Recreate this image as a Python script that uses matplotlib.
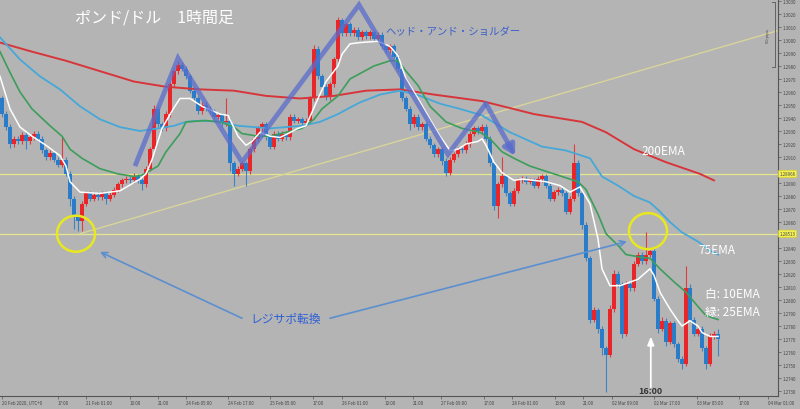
import matplotlib
matplotlib.use("Agg")
import matplotlib.pyplot as plt
from matplotlib.patches import Ellipse

plt.rcParams['font.family'] = ['Noto Sans CJK JP', 'DejaVu Sans']

# GBP/USD 1h candles, open of each bar = previous close
first_open = 1.2955
closes = [
    1.2943, 1.2933, 1.2920, 1.2924, 1.2922, 1.2927, 1.2922, 1.2925, 1.2928, 1.2924,
    1.2915, 1.2910, 1.2913, 1.2908, 1.2904, 1.2908, 1.2897, 1.2878, 1.2864, 1.2861,
    1.2874, 1.2882, 1.2878, 1.2881, 1.2879, 1.2882, 1.2878, 1.2881, 1.2885, 1.2889,
    1.2892, 1.2893, 1.2892, 1.2895, 1.2892, 1.2889, 1.2901, 1.2916, 1.2947, 1.2935,
    1.2932, 1.2943, 1.2966, 1.2976, 1.2981, 1.2978, 1.2972, 1.2961, 1.2955, 1.2945,
    1.2950, 1.2947, 1.2945, 1.2941, 1.2942, 1.2936, 1.2938, 1.2905, 1.2897, 1.2901,
    1.2905, 1.2899, 1.2916, 1.2924, 1.2932, 1.2935, 1.2925, 1.2918, 1.2928, 1.2924,
    1.2928, 1.2925, 1.2941, 1.2938, 1.2939, 1.2936, 1.2938, 1.2955, 1.2993, 1.2972,
    1.2964, 1.2956, 1.2966, 1.2985, 1.3015, 1.3005, 1.3012, 1.3005, 1.3008, 1.3002,
    1.3006, 1.3003, 1.3006, 1.3001, 1.3004, 1.2995, 1.2992, 1.2995, 1.2987, 1.2978,
    1.2955, 1.2947, 1.2935, 1.2941, 1.2933, 1.2935, 1.2924, 1.2919, 1.2912, 1.2916,
    1.2907, 1.2898, 1.2908, 1.2912, 1.2916, 1.2915, 1.2920, 1.2928, 1.2932, 1.2930,
    1.2933, 1.2924, 1.2905, 1.2872, 1.2889, 1.2895, 1.2882, 1.2874, 1.2884, 1.2892,
    1.2893, 1.2891, 1.2892, 1.2888, 1.2893, 1.2895, 1.2888, 1.2878, 1.2883, 1.2885,
    1.2882, 1.2868, 1.2878, 1.2905, 1.2882, 1.2858, 1.2832, 1.2785, 1.2792, 1.2778,
    1.2763, 1.2758, 1.2793, 1.2820, 1.2812, 1.2774, 1.2812, 1.2809, 1.2828, 1.2835,
    1.2830, 1.2835, 1.2838, 1.2801, 1.2778, 1.2784, 1.2768, 1.2782, 1.2766, 1.2755,
    1.2751, 1.2809, 1.2785, 1.2774, 1.2778, 1.2763, 1.2751, 1.2772, 1.2774, 1.2770,
]
# wick lengths in pips above / below the body
wick_up = [
    2, 2, 2, 2, 2, 2, 2, 2, 2, 2,   2, 2, 2, 2, 2, 17, 2, 2, 2, 2,
    2, 2, 2, 2, 2, 2, 2, 2, 2, 2,   2, 2, 2, 3, 2, 2, 2, 2, 3, 2,
    2, 2, 2, 2, 3, 2, 2, 2, 2, 2,   2, 2, 2, 2, 2, 2, 17, 2, 2, 2,
    2, 2, 2, 2, 2, 2, 2, 2, 2, 2,   2, 2, 2, 2, 2, 2, 2, 2, 3, 2,
    2, 2, 2, 2, 3, 2, 2, 2, 2, 2,   2, 2, 2, 2, 2, 2, 2, 2, 2, 2,
    2, 2, 2, 2, 2, 2, 2, 2, 2, 2,   2, 2, 2, 2, 2, 2, 2, 2, 2, 2,
    2, 2, 2, 2, 2, 15, 2, 2, 2, 2,  2, 2, 2, 2, 2, 2, 2, 2, 2, 2,
    2, 2, 2, 15, 3, 2, 2, 2, 3, 2,  2, 2, 3, 3, 2, 2, 3, 2, 2, 2,
    2, 17, 2, 2, 2, 3, 2, 2, 2, 2,  2, 17, 3, 2, 2, 2, 2, 3, 2, 4,
]
wick_dn = [
    2, 2, 3, 2, 2, 2, 6, 2, 2, 2,   2, 2, 2, 2, 2, 2, 2, 6, 9, 8,
    8, 2, 2, 2, 2, 2, 4, 2, 2, 2,   2, 2, 2, 2, 2, 4, 2, 2, 2, 2,
    2, 2, 2, 2, 2, 2, 2, 2, 2, 2,   2, 2, 2, 2, 2, 2, 2, 6, 9, 2,
    2, 11, 2, 2, 2, 2, 2, 2, 2, 2,  2, 2, 2, 2, 2, 2, 2, 2, 2, 2,
    2, 2, 2, 2, 2, 2, 2, 2, 2, 2,   2, 2, 2, 2, 2, 2, 2, 2, 2, 2,
    2, 2, 4, 2, 2, 2, 2, 2, 2, 2,   3, 3, 2, 2, 2, 2, 2, 2, 2, 2,
    2, 2, 2, 3, 9, 2, 2, 2, 2, 2,   2, 2, 2, 2, 2, 2, 2, 2, 2, 2,
    2, 2, 2, 2, 2, 3, 2, 3, 2, 3,   5, 29, 2, 2, 2, 3, 2, 2, 2, 2,
    2, 2, 2, 2, 3, 2, 3, 2, 2, 3,   4, 2, 2, 2, 2, 2, 4, 2, 2, 13,
]

# moving averages sampled along the bars (bar index, price)
ema10_x = [-0.5, 2, 4.5, 7.5, 11, 14.5, 16, 17, 19.5, 24.5, 29.5, 34.5, 36, 37.5, 40, 43, 44.5, 47,
           50, 54.5, 56.5, 59, 61, 62.5, 64.5, 67, 69.5, 71.5, 74, 76, 79, 81, 84, 85, 87, 89.5, 94,
           97, 99, 101, 104, 107, 109.5, 112, 114, 116, 119, 120, 121, 123, 125, 128, 130, 136,
           139.5, 142, 144.5, 147, 149, 150, 152, 154.5, 159, 162, 163, 164.5, 167, 169, 170, 172,
           174, 175, 177, 179]
ema10_y = [1.2972, 1.2947, 1.2933, 1.2926, 1.2919, 1.2911, 1.2903, 1.2891, 1.2883, 1.2882, 1.2884,
           1.2893, 1.2897, 1.2908, 1.2932, 1.2948, 1.2955, 1.2955, 1.2949, 1.2943, 1.2942, 1.2926,
           1.2919, 1.2922, 1.2929, 1.2926, 1.2925, 1.2928, 1.2932, 1.2934, 1.2955, 1.2968, 1.2980,
           1.2989, 1.2997, 1.2998, 1.2999, 1.2995, 1.2988, 1.2970, 1.2955, 1.2939, 1.2926, 1.2915,
           1.2916, 1.2920, 1.2922, 1.2924, 1.2919, 1.2906, 1.2898, 1.2892, 1.2893, 1.2891, 1.2888,
           1.2883, 1.2887, 1.2874, 1.2847, 1.2824, 1.2811, 1.2811, 1.2816, 1.2824, 1.2819, 1.2806,
           1.2793, 1.2784, 1.2780, 1.2784, 1.2780, 1.2775, 1.2772, 1.2772]
ema25_x = [-0.5, 2, 4.5, 7.5, 12, 15, 17, 20, 24.5, 29, 33, 35, 39, 41, 44.5, 46, 51, 54.5, 58, 60,
           64, 67, 71, 75, 78, 80, 84, 87, 93, 97, 99, 101, 104, 107, 111, 115, 119.5, 122, 125, 128,
           132, 136, 140, 144, 146, 149, 151, 154, 156, 159.5, 162, 164.5, 168, 171, 174, 176, 179]
ema25_y = [1.2991, 1.2975, 1.2960, 1.2947, 1.2934, 1.2926, 1.2916, 1.2909, 1.2901, 1.2897, 1.2895,
           1.2896, 1.2903, 1.2914, 1.2928, 1.2937, 1.2938, 1.2937, 1.2933, 1.2928, 1.2926, 1.2926,
           1.2929, 1.2932, 1.2939, 1.2947, 1.2957, 1.2970, 1.2980, 1.2984, 1.2984, 1.2976, 1.2965,
           1.2949, 1.2937, 1.2932, 1.2929, 1.2924, 1.2914, 1.2909, 1.2903, 1.2899, 1.2895, 1.2891,
           1.2885, 1.2866, 1.2851, 1.2842, 1.2835, 1.2833, 1.2832, 1.2824, 1.2814, 1.2806, 1.2795,
           1.2788, 1.2785]
ema75_x = [-0.5, 4.5, 9.5, 14.5, 19.5, 24.5, 29.5, 34.5, 39, 43, 46, 50, 54.5, 59, 63, 67, 71, 75,
           79.5, 84, 87, 89.5, 94.5, 99.5, 104.5, 109.5, 114.5, 120, 127, 135, 141, 147, 150, 154,
           158, 162, 164.5, 167, 170, 174, 177, 179]
ema75_y = [1.3002, 1.2985, 1.2972, 1.2962, 1.2949, 1.2939, 1.2933, 1.2930, 1.2932, 1.2934, 1.2937,
           1.2938, 1.2937, 1.2934, 1.2933, 1.2932, 1.2933, 1.2934, 1.2937, 1.2943, 1.2948, 1.2952,
           1.2958, 1.2961, 1.2957, 1.2951, 1.2947, 1.2942, 1.2929, 1.2918, 1.2915, 1.2909, 1.2895,
           1.2888, 1.2880, 1.2875, 1.2868, 1.2860, 1.2852, 1.2845, 1.2838, 1.2835]
ema200_x = [-0.5, 7.5, 16, 24.5, 33, 41, 49.5, 58, 66, 74.5, 83, 91, 99.5, 108, 120, 133, 145, 151,
            158, 166, 174.5, 178]
ema200_y = [1.2998, 1.2991, 1.2984, 1.2976, 1.2968, 1.2964, 1.2962, 1.2961, 1.2957, 1.2955, 1.2957,
            1.2961, 1.2962, 1.2958, 1.2953, 1.2943, 1.2937, 1.2929, 1.2916, 1.2906, 1.2897, 1.2892]

# drawn pattern and support/resistance
hs_x = [33.25, 44, 60, 89.25, 111.5, 121, 128.25]
hs_y = [1.2903, 1.2986, 1.2906, 1.3027, 1.2912, 1.2951, 1.2911]
levels = [1.2897, 1.2851]
level_tags = ["1.28966", "1.28513"]
trend_x = [19.5, 193.75]
trend_y = [1.2851, 1.3007]
range_box = [1.3029, 1.2979]

tick_pos = [0, 14, 21, 32, 39, 46, 56.5, 67, 77.75, 85, 95.75, 102.75, 109.75, 120.5, 127.5,
            138.25, 145.25, 152.5, 163, 173.75, 184.25, 191.5]
tick_lbl = ["20 Feb 2020, UTC+0", "17:00", "21 Feb 01:00", "10:00", "21:00", "24 Feb 05:00",
            "24 Feb 17:00", "25 Feb 05:00", "17:00", "26 Feb 01:00", "10:00", "21:00",
            "27 Feb 09:00", "17:00", "28 Feb 01:00", "13:00", "21:00", "02 Mar 09:00",
            "02 Mar 17:00", "03 Mar 05:00", "17:00", "04 Mar 01:00"]
price_ticks = [1.2730 + 0.001 * k for k in range(31)]

opens = [first_open] + closes[:-1]
highs = [max(o, c) + w / 10000 for o, c, w in zip(opens, closes, wick_up)]
lows = [min(o, c) - w / 10000 for o, c, w in zip(opens, closes, wick_dn)]

bg = "#b4b4b4"
up_col, dn_col = "#e8262a", "#2a7cc8"

fig = plt.figure(figsize=(8, 4.1), dpi=100)
fig.patch.set_facecolor(bg)
ax = fig.add_axes([0, 13 / 410, 778 / 800, 397 / 410])
ax.set_facecolor(bg)
ax.set_xlim(-0.5, 194)
ax.set_ylim(1.27262, 1.30315)

for lv in levels:
    ax.axhline(lv, color="#e6e68c", lw=0.9, zorder=1)
ax.plot(trend_x, trend_y, color="#d8d49a", lw=1.0, zorder=1)

for i, (o, h, l, c) in enumerate(zip(opens, highs, lows, closes)):
    col = up_col if c >= o else dn_col
    ax.vlines(i, l, h, color=col, lw=0.8, alpha=0.85, zorder=2)
    body = max(abs(c - o), 0.00006)
    ax.bar(i, body, bottom=min(o, c), width=0.78, color=col, lw=0, zorder=2)

ax.plot(ema200_x, ema200_y, color="#d8353a", lw=1.4, zorder=3)
ax.plot(ema75_x, ema75_y, color="#45a8d8", lw=1.3, zorder=3)
ax.plot(ema25_x, ema25_y, color="#3c9e5a", lw=1.2, zorder=3)
ax.plot(ema10_x, ema10_y, color="white", lw=1.1, zorder=4)

# head and shoulders zigzag
ax.plot(hs_x[:-1], hs_y[:-1], color="#5a6ccc", lw=3.5, alpha=0.75, solid_capstyle="butt",
        solid_joinstyle="miter", zorder=5)
ax.annotate("", xy=(hs_x[-1], hs_y[-1]), xytext=(hs_x[-2], hs_y[-2]),
            arrowprops=dict(arrowstyle="-|>,head_width=0.35,head_length=0.6", color="#5a6ccc",
                            lw=3.5, alpha=0.75, shrinkA=0, shrinkB=0), zorder=5)

for cx, cy in [(18.5, 1.2851), (161.5, 1.2853)]:
    ax.add_patch(Ellipse((cx, cy), 9.5, 0.00277, fill=False, ec="#e8e820", lw=1.8, zorder=6))

arrow_kw = dict(arrowstyle="->", color="#5b8fcf", lw=1.2, shrinkA=0, shrinkB=0)
ax.annotate("", xy=(24.5, 1.2837), xytext=(60, 1.2786), arrowprops=arrow_kw, zorder=6)
ax.annotate("", xy=(156.25, 1.2845), xytext=(82, 1.2786), arrowprops=arrow_kw, zorder=6)
ax.text(71, 1.2786, "レジサポ転換", color="#2f5fd6", fontsize=8.5, ha="center", va="center", zorder=7)

ax.annotate("", xy=(162.2, 1.2772), xytext=(162.2, 1.2733),
            arrowprops=dict(arrowstyle="-|>,head_width=0.2,head_length=0.5", color="white",
                            lw=1.3, shrinkA=0, shrinkB=0), zorder=7)
ax.text(162.2, 1.27305, "16:00", color="#333333", fontsize=6.5, fontweight="bold",
        ha="center", va="center", zorder=7)

ax.text(18.3, 1.3018, "ポンド/ドル　1時間足", color="white", fontsize=11.5, ha="left", va="center", zorder=7)
ax.text(95.8, 1.3007, "ヘッド・アンド・ショルダー", color="#3d5fcc", fontsize=7.5, ha="left",
        va="center", zorder=7)
ax.text(159.8, 1.2915, "200EMA", color="white", fontsize=8.5, ha="left", va="center", zorder=7)
ax.text(174.0, 1.2839, "75EMA", color="white", fontsize=8.5, ha="left", va="center", zorder=7)
ax.text(175.8, 1.2805, "白: 10EMA", color="white", fontsize=8.5, ha="left", va="center", zorder=7)
ax.text(175.8, 1.2791, "緑: 25EMA", color="white", fontsize=8.5, ha="left", va="center", zorder=7)

# small range bracket at top right
ax.plot([192.4, 193.2, 193.2, 192.4], [range_box[0], range_box[0], range_box[1], range_box[1]],
        color="#555555", lw=0.6, zorder=7)
ax.text(192.0, sum(range_box) / 2, "50 pips", fontsize=3, color="#444444", rotation=90,
        ha="right", va="center", zorder=7)

for lv, tag in zip(levels, level_tags):
    ax.text(194.4, lv, tag, fontsize=3.2, color="#444444", ha="left", va="center", clip_on=False,
            bbox=dict(boxstyle="round,pad=0.25", fc="#f2f055", ec="#d8d030", lw=0.5), zorder=8)

for s in ["top", "left"]:
    ax.spines[s].set_visible(False)
for s in ["right", "bottom"]:
    ax.spines[s].set_color("#555555")
    ax.spines[s].set_linewidth(0.8)

ax.yaxis.tick_right()
ax.set_yticks(price_ticks)
# tick labels hidden behind the level tags
ax.set_yticklabels(["" if min(abs(p - lv) for lv in levels) < 0.0004 else f"{p:.4f}"
                    for p in price_ticks])
ax.tick_params(axis="y", labelsize=3.2, labelcolor="#444444", length=2, width=0.5, pad=1,
               color="#555555")
ax.set_xticks(tick_pos)
ax.set_xticklabels(tick_lbl)
for lab in ax.get_xticklabels():
    lab.set_ha("left")
ax.tick_params(axis="x", labelsize=3.2, labelcolor="#444444", length=2, width=0.5, pad=1,
               color="#555555")

fig.savefig("out.png", dpi=100, facecolor=bg)
